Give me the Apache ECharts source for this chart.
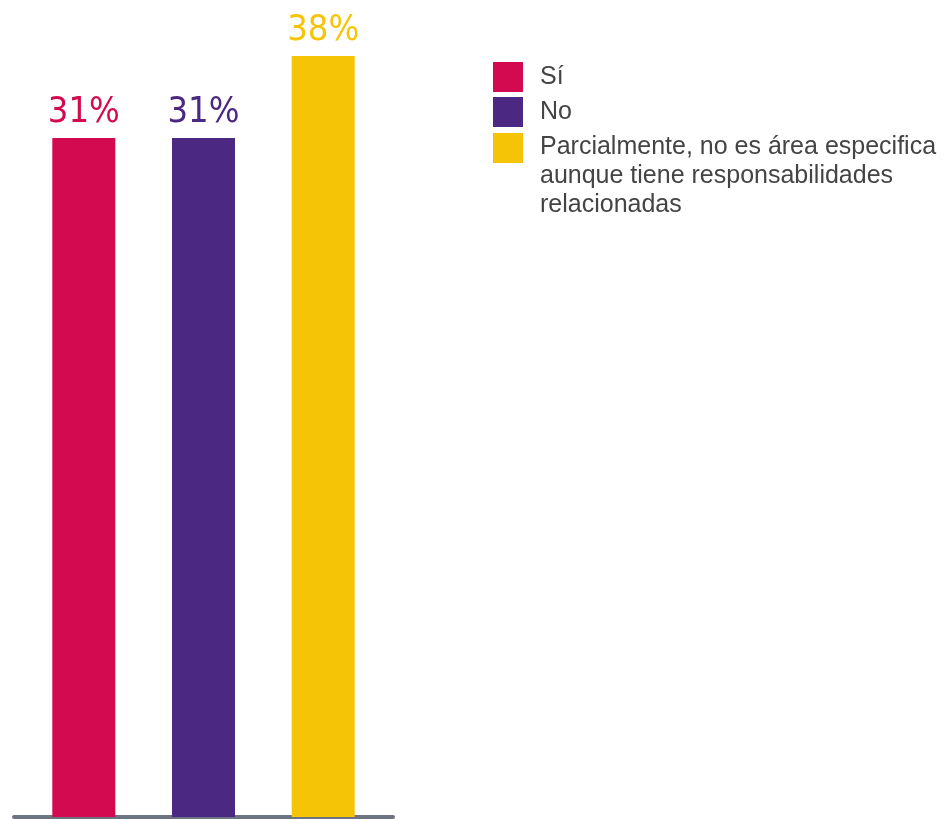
<!DOCTYPE html>
<html>
<head>
<meta charset="utf-8">
<script src="https://cdn.jsdelivr.net/npm/echarts@6/dist/echarts.min.js"></script>
<style>
  html, body { margin: 0; padding: 0; background: #ffffff; }
  #chart { width: 945px; height: 819px; }
</style>
</head>
<body>
<div id="chart"></div>
<script>
// Answers and their shares (%)
const categories = ['Sí', 'No', 'Parcialmente, no es área especifica\naunque tiene responsabilidades\nrelacionadas'];
const values = [31, 31, 38];
const colors = ['#d30a50', '#4b2881', '#f6c406'];

const chart = echarts.init(document.getElementById('chart'), null, { renderer: 'canvas' });

const series = categories.map((name, i) => ({
  name: name,
  type: 'bar',
  data: [values[i]],
  barWidth: 63,
  barGap: '90%',
  itemStyle: { color: colors[i] },
  label: {
    show: true,
    position: 'top',
    distance: 7,
    formatter: '{c}%',
    color: colors[i],
    fontFamily: '"DejaVu Sans Condensed", "DejaVu Sans", sans-serif',
    fontSize: 36,
    fontWeight: 'normal'
  }
}));

const legendText = {
  fontFamily: '"Liberation Sans", Arial, sans-serif',
  fontSize: 25,
  lineHeight: 29,
  color: '#444444',
  padding: [0, 0, 0, 12]
};

chart.setOption({
  animation: false,
  backgroundColor: '#ffffff',
  grid: { left: 14, right: 945 - 393, top: 56, bottom: 2, containLabel: false },
  legend: [
    {
      // single-line entries
      orient: 'vertical',
      left: 493,
      top: 62,
      padding: 0,
      itemWidth: 30,
      itemHeight: 30,
      itemGap: 5,
      selectedMode: false,
      icon: 'rect',
      data: categories.slice(0, 2),
      textStyle: legendText
    },
    {
      // three-line entry: swatch sits beside the first line
      orient: 'vertical',
      left: 493,
      top: 133,
      padding: 0,
      itemWidth: 30,
      itemHeight: 87,
      selectedMode: false,
      data: [{ name: categories[2], icon: 'path://M0,0h30v30h-30zM0,87' }],
      textStyle: legendText
    }
  ],
  xAxis: {
    type: 'category',
    data: [''],
    axisLine: { show: true, lineStyle: { color: '#6b7480', width: 4 } },
    axisTick: { show: false },
    axisLabel: { show: false },
    splitLine: { show: false }
  },
  yAxis: {
    type: 'log',
    logBase: 10,
    min: 5.743,
    max: 38,
    axisLine: { show: false },
    axisTick: { show: false },
    axisLabel: { show: false },
    splitLine: { show: false }
  },
  series: series
});
</script>
</body>
</html>
